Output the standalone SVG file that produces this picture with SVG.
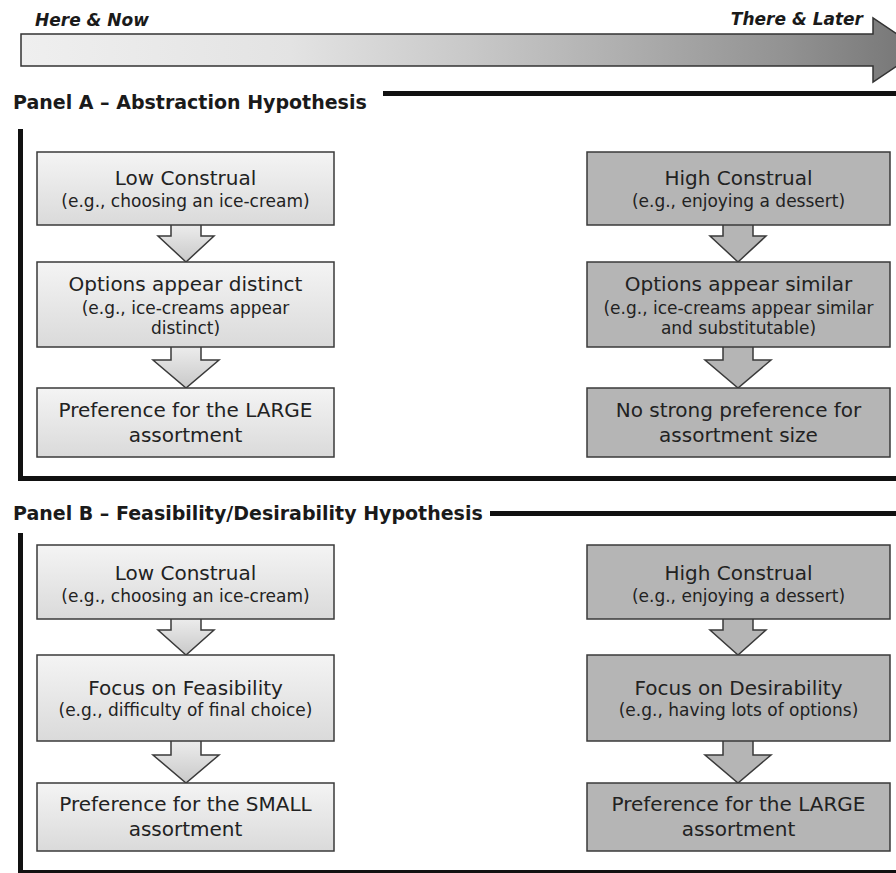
<svg xmlns="http://www.w3.org/2000/svg" width="896" height="873" viewBox="0 0 896 873">
<defs>
<linearGradient id="tl" gradientUnits="userSpaceOnUse" x1="21" y1="0" x2="921" y2="0">
<stop offset="0" stop-color="#efefef"/>
<stop offset="0.3" stop-color="#e3e3e3"/>
<stop offset="0.5" stop-color="#c8c8c8"/>
<stop offset="0.66" stop-color="#b0b0b0"/>
<stop offset="0.85" stop-color="#929292"/>
<stop offset="1" stop-color="#747474"/>
</linearGradient>
<linearGradient id="lg" x1="0" y1="0" x2="0" y2="1">
<stop offset="0" stop-color="#f4f4f4"/>
<stop offset="1" stop-color="#dadada"/>
</linearGradient>
<linearGradient id="la" x1="0" y1="0" x2="0" y2="1">
<stop offset="0" stop-color="#ececec"/>
<stop offset="1" stop-color="#c9c9c9"/>
</linearGradient>
</defs>
<style>
.lb{fill:url(#lg);stroke:#3a3a3a;stroke-width:1.5}
.rb{fill:#b5b5b5;stroke:#3a3a3a;stroke-width:1.5}
.la{fill:url(#la);stroke:#3a3a3a;stroke-width:1.5;stroke-linejoin:miter}
.ra{fill:#b5b5b5;stroke:#3a3a3a;stroke-width:1.5;stroke-linejoin:miter}
.m{font-family:"DejaVu Sans",sans-serif;font-size:20px;fill:#222;text-anchor:middle}
.s{font-family:"DejaVu Sans",sans-serif;font-size:17px;fill:#222;text-anchor:middle}
.t{font-family:"DejaVu Sans",sans-serif;font-size:19px;font-weight:bold;fill:#1a1a1a}
.h{font-family:"DejaVu Sans",sans-serif;font-size:17px;font-weight:bold;font-style:italic;fill:#1a1a1a}
.bar{fill:#111}
</style>

<g id="timeline">
<path d="M21,34 L873,34 L873,18 L921,50 L873,82 L873,66 L21,66 Z" fill="url(#tl)" stroke="#333" stroke-width="1.5"/>
<text class="h" x="35" y="26">Here &amp; Now</text>
<text class="h" x="863" y="25" text-anchor="end">There &amp; Later</text>
</g>

<g id="panelA-frame">
<text class="t" x="13" y="109">Panel A – Abstraction Hypothesis</text>
<rect class="bar" x="383" y="91" width="513" height="5"/>
<rect class="bar" x="18" y="129" width="5" height="352"/>
<rect class="bar" x="18" y="476" width="878" height="5"/>
</g>

<g id="panelB-frame">
<text class="t" x="13" y="520">Panel B – Feasibility/Desirability Hypothesis</text>
<rect class="bar" x="490" y="511" width="406" height="5"/>
<rect class="bar" x="18" y="533" width="5" height="340"/>
<rect class="bar" x="18" y="870" width="878" height="4"/>
</g>

<g id="connectors">
<path class="la" d="M171,225 V236 H158 L186,262 L214,236 H201 V225"/>
<path class="la" d="M171,347 V360 H153 L186,388 L219,360 H201 V347"/>
<path class="ra" d="M723,225 V236 H710 L738,262 L766,236 H753 V225"/>
<path class="ra" d="M723,347 V360 H705 L738,388 L771,360 H753 V347"/>
<path class="la" d="M171,619 V630 H158 L186,655 L214,630 H201 V619"/>
<path class="la" d="M171,741 V755 H153 L186,783 L219,755 H201 V741"/>
<path class="ra" d="M723,619 V630 H710 L738,655 L766,630 H753 V619"/>
<path class="ra" d="M723,741 V755 H705 L738,783 L771,755 H753 V741"/>
</g>

<g id="a-low">
<rect class="lb" x="37" y="152" width="297" height="73"/>
<text class="m" x="185.5" y="185">Low Construal</text>
<text class="s" x="185.5" y="207">(e.g., choosing an ice-cream)</text>
</g>
<g id="a-distinct">
<rect class="lb" x="37" y="262" width="297" height="85"/>
<text class="m" x="185.5" y="291">Options appear distinct</text>
<text class="s" x="185.5" y="314">(e.g., ice-creams appear</text>
<text class="s" x="185.5" y="334">distinct)</text>
</g>
<g id="a-large">
<rect class="lb" x="37" y="388" width="297" height="69"/>
<text class="m" x="185.5" y="417">Preference for the LARGE</text>
<text class="m" x="185.5" y="442">assortment</text>
</g>
<g id="a-high">
<rect class="rb" x="587" y="152" width="303" height="73"/>
<text class="m" x="738.5" y="185">High Construal</text>
<text class="s" x="738.5" y="207">(e.g., enjoying a dessert)</text>
</g>
<g id="a-similar">
<rect class="rb" x="587" y="262" width="303" height="85"/>
<text class="m" x="738.5" y="291">Options appear similar</text>
<text class="s" x="738.5" y="314">(e.g., ice-creams appear similar</text>
<text class="s" x="738.5" y="334">and substitutable)</text>
</g>
<g id="a-nopref">
<rect class="rb" x="587" y="388" width="303" height="69"/>
<text class="m" x="738.5" y="417">No strong preference for</text>
<text class="m" x="738.5" y="442">assortment size</text>
</g>

<g id="b-low">
<rect class="lb" x="37" y="545" width="297" height="74"/>
<text class="m" x="185.5" y="580">Low Construal</text>
<text class="s" x="185.5" y="602">(e.g., choosing an ice-cream)</text>
</g>
<g id="b-feas">
<rect class="lb" x="37" y="655" width="297" height="86"/>
<text class="m" x="185.5" y="695">Focus on Feasibility</text>
<text class="s" x="185.5" y="716">(e.g., difficulty of final choice)</text>
</g>
<g id="b-small">
<rect class="lb" x="37" y="783" width="297" height="68"/>
<text class="m" x="185.5" y="811">Preference for the SMALL</text>
<text class="m" x="185.5" y="836">assortment</text>
</g>
<g id="b-high">
<rect class="rb" x="587" y="545" width="303" height="74"/>
<text class="m" x="738.5" y="580">High Construal</text>
<text class="s" x="738.5" y="602">(e.g., enjoying a dessert)</text>
</g>
<g id="b-des">
<rect class="rb" x="587" y="655" width="303" height="86"/>
<text class="m" x="738.5" y="695">Focus on Desirability</text>
<text class="s" x="738.5" y="716">(e.g., having lots of options)</text>
</g>
<g id="b-large">
<rect class="rb" x="587" y="783" width="303" height="68"/>
<text class="m" x="738.5" y="811">Preference for the LARGE</text>
<text class="m" x="738.5" y="836">assortment</text>
</g>
</svg>
